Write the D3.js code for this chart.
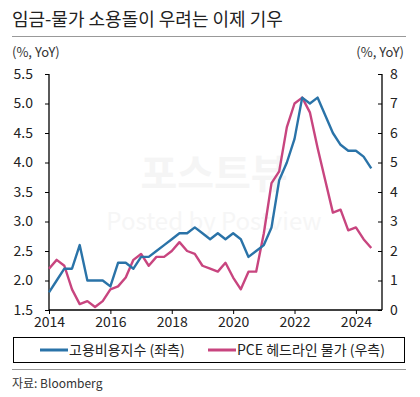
<!DOCTYPE html>
<html>
<head>
<meta charset="utf-8">
<script src="https://cdn.jsdelivr.net/npm/d3@7"></script>
<style>
body { margin: 0; background: #fff; }
svg { font-family: "Noto Sans CJK KR", "Noto Sans", sans-serif; }
</style>
</head>
<body>
<script>
var width = 420;
var height = 397;

// quarterly points, plotted at quarter start
var years = [2014, 2015, 2016, 2017, 2018, 2019, 2020, 2021, 2022, 2023, 2024];
var eci = [1.8, 2.0, 2.2, 2.2, 2.6, 2.0, 2.0, 2.0, 1.9, 2.3, 2.3, 2.2,
    2.4, 2.4, 2.5, 2.6, 2.7, 2.8, 2.8, 2.9, 2.8, 2.7, 2.8, 2.7,
    2.8, 2.7, 2.4, 2.5, 2.6, 2.9, 3.7, 4.0, 4.4, 5.1, 5.0, 5.1,
    4.8, 4.5, 4.3, 4.2, 4.2, 4.1, 3.9];
var pce = [1.4, 1.7, 1.5, 0.7, 0.2, 0.3, 0.1, 0.3, 0.7, 0.8, 1.1, 1.7,
    1.9, 1.5, 1.8, 1.8, 2.0, 2.3, 2.0, 1.9, 1.5, 1.4, 1.3, 1.6,
    1.1, 0.7, 1.3, 1.3, 2.6, 4.3, 4.7, 6.2, 7.0, 7.2, 6.7, 5.5,
    4.4, 3.3, 3.4, 2.7, 2.8, 2.4, 2.1];
var leftTicks = [1.5, 2.0, 2.5, 3.0, 3.5, 4.0, 4.5, 5.0, 5.5];
var rightTicks = [0, 1, 2, 3, 4, 5, 6, 7, 8];
var xTicks = [2014, 2016, 2018, 2020, 2022, 2024];
var seriesNames = ["고용비용지수 (좌측)", "PCE 헤드라인 물가 (우측)"];
var colors = ["#2a73a8", "#c8457f"];

var pL = 49, pR = 382, pT = 74, pB = 310;

var x = d3.scaleLinear().domain([2014, 2024.85]).range([pL, pR]);
var yL = d3.scaleLinear().domain([1.5, 5.5]).range([pB, pT]);
var yR = d3.scaleLinear().domain([0, 8]).range([pB, pT]);

function qt(i) { return years[0] + i / 4; }

var svg = d3.select("body").append("svg")
    .attr("width", width)
    .attr("height", height);

// title
svg.append("text")
    .attr("x", 12).attr("y", 26)
    .style("font-size", "18px")
    .style("fill", "#222")
    .text("임금-물가 소용돌이 우려는 이제 기우");
svg.append("line")
    .attr("x1", 12).attr("x2", 406).attr("y1", 36.5).attr("y2", 36.5)
    .style("stroke", "#999").style("stroke-width", 1);

svg.append("text").attr("x", 12).attr("y", 57)
    .style("font-size", "13px").style("fill", "#333").text("(%, YoY)");
svg.append("text").attr("x", 404).attr("y", 57).attr("text-anchor", "end")
    .style("font-size", "13px").style("fill", "#333").text("(%, YoY)");

// watermark
svg.append("text").attr("x", 214).attr("y", 188).attr("text-anchor", "middle")
    .style("font-size", "40px").style("font-weight", "bold").style("fill", "#f5f5f5")
    .text("포스트뷰");
svg.append("text").attr("x", 214).attr("y", 230).attr("text-anchor", "middle")
    .style("font-size", "24px").style("fill", "#f6f6f6")
    .text("Posted by Postview");

// axes
var axL = svg.append("g").attr("transform", "translate(" + pL + ",0)")
    .call(d3.axisLeft(yL).tickValues(leftTicks).tickFormat(d3.format(".1f")).tickSize(4).tickPadding(12));
var axR = svg.append("g").attr("transform", "translate(" + pR + ",0)")
    .call(d3.axisRight(yR).tickValues(rightTicks).tickSize(-4).tickPadding(8));
var axB = svg.append("g").attr("transform", "translate(0," + pB + ")")
    .call(d3.axisBottom(x).tickValues(xTicks).tickFormat(d3.format("d")).tickSize(4).tickPadding(3));

[axL, axR, axB].forEach(function (a) {
    a.select(".domain").style("stroke", "#000").style("stroke-width", 1.3);
    a.selectAll(".tick line").style("stroke", "#000");
    a.selectAll("text").style("font-size", "14px").style("fill", "#222")
        .style("font-family", "\"Noto Sans CJK KR\", sans-serif");
});
axL.select(".domain").attr("d", "M0," + pT + "V" + pB);
axR.select(".domain").attr("d", "M0," + pT + "V" + pB);
axB.select(".domain").attr("d", "M" + pL + ",0H" + pR);

// lines
var lineL = d3.line().x(function (d, i) { return x(qt(i)); }).y(function (d) { return yL(d); });
var lineR = d3.line().x(function (d, i) { return x(qt(i)); }).y(function (d) { return yR(d); });

svg.append("path").datum(pce)
    .attr("d", lineR)
    .style("fill", "none").style("stroke", colors[1]).style("stroke-width", 2.4)
    .style("stroke-linejoin", "round");
svg.append("path").datum(eci)
    .attr("d", lineL)
    .style("fill", "none").style("stroke", colors[0]).style("stroke-width", 2.4)
    .style("stroke-linejoin", "round");

// legend
svg.append("rect")
    .attr("x", 13.5).attr("y", 337.5).attr("width", 391).attr("height", 25)
    .style("fill", "none").style("stroke", "#000").style("stroke-width", 1);
var legX = [40, 208];
seriesNames.forEach(function (name, i) {
    svg.append("line")
        .attr("x1", legX[i]).attr("x2", legX[i] + 28)
        .attr("y1", 350).attr("y2", 350)
        .style("stroke", colors[i]).style("stroke-width", 3);
    svg.append("text")
        .attr("x", legX[i] + 29).attr("y", 355)
        .style("font-size", "14px").style("fill", "#222")
        .text(name);
});

svg.append("line")
    .attr("x1", 12).attr("x2", 406).attr("y1", 369.5).attr("y2", 369.5)
    .style("stroke", "#999").style("stroke-width", 1);
svg.append("text").attr("x", 12).attr("y", 388)
    .style("font-size", "12px").style("fill", "#333")
    .text("자료: Bloomberg");
</script>
</body>
</html>
